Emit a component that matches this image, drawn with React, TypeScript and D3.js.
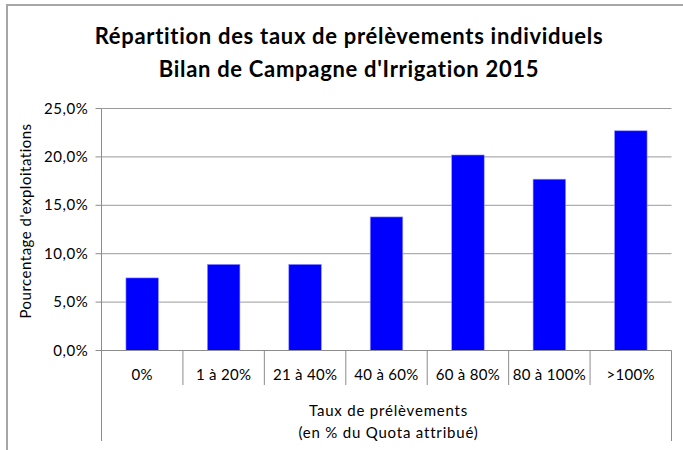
import React from 'react';
import * as d3 from 'd3';

const categories = ['0%', '1 à 20%', '21 à 40%', '40 à 60%', '60 à 80%', '80 à 100%', '>100%'];
const values = [7.5, 8.9, 8.9, 13.8, 20.2, 17.7, 22.7];
const yTicks = [0, 5, 10, 15, 20, 25];
const titleLines = ['Répartition des taux de prélèvements individuels', "Bilan de Campagne d'Irrigation 2015"];
const xTitleLines = ['Taux de prélèvements', '(en % du Quota attribué)'];
const yTitle = "Pourcentage d'exploitations";

const W = 683;
const H = 450;
const left = 101.5;
const right = 671.5;
const top = 108.5;
const bottom = 350.5;

const App: React.FC = () => {
  const x = d3.scaleBand<string>()
    .domain(categories)
    .range([left, right])
    .paddingInner(0.6)
    .paddingOuter(0.3);

  const y = d3.scaleLinear()
    .domain([0, 25])
    .range([bottom, top]);

  const step = x.step();
  const font = 'Lato, "Open Sans", sans-serif';
  const fmt = (v: number) => v.toFixed(1).replace('.', ',') + '%';

  return (
    <svg width={W} height={H} style={{ position: 'absolute', left: 0, top: 0 }} fontFamily={font}>
      <rect x={0} y={0} width={W} height={H} fill="#fff" />
      {/* outer chart border */}
      <path d={`M7,${H} V5 H${W}`} fill="none" stroke="#a6a6a6" strokeWidth={2} />

      {titleLines.map((t, i) => (
        <text key={t} x={349} y={44 + i * 33} textAnchor="middle" fontSize={22} letterSpacing={0.7} fontWeight="bold" fill="#000">
          {t}
        </text>
      ))}

      {/* gridlines and y ticks */}
      {yTicks.map(t => (
        <g key={t}>
          {t > 0 && <line x1={left} x2={right} y1={y(t)} y2={y(t)} stroke="#9a9a9a" strokeWidth={1} />}
          <line x1={left - 6} x2={left} y1={y(t)} y2={y(t)} stroke="#8c8c8c" />
          <text x={left - 13} y={y(t) + 5} textAnchor="end" fontSize={15} letterSpacing={0.6} fill="#000">{fmt(t)}</text>
        </g>
      ))}

      {/* bars */}
      {categories.map((c, i) => (
        <rect
          key={c}
          x={x(c)}
          y={y(values[i])}
          width={x.bandwidth()}
          height={bottom - y(values[i])}
          fill="#0000ff"
          stroke="#9b9bff"
          strokeWidth={0.6}
        />
      ))}

      {/* axes */}
      <line x1={left} x2={left} y1={top} y2={441} stroke="#8c8c8c" />
      <line x1={right} x2={right} y1={bottom} y2={441} stroke="#8c8c8c" />
      <line x1={left} x2={right} y1={bottom} y2={bottom} stroke="#8c8c8c" />
      {categories.slice(1).map((c, i) => {
        const sx = left + step * (i + 1);
        return <line key={c} x1={sx} x2={sx} y1={bottom} y2={385} stroke="#8c8c8c" />;
      })}
      {categories.map(c => (
        <text key={c} x={(x(c) ?? 0) + x.bandwidth() / 2} y={380} textAnchor="middle" fontSize={15} letterSpacing={0.3} fill="#000">
          {c}
        </text>
      ))}

      {xTitleLines.map((t, i) => (
        <text key={t} x={(left + right) / 2 + 2} y={416 + i * 22} textAnchor="middle" fontSize={15} letterSpacing={0.8} fill="#000">
          {t}
        </text>
      ))}

      <text
        transform={`translate(31,221) rotate(-90)`}
        textAnchor="middle"
        fontSize={15}
        letterSpacing={0.5}
        fill="#000"
      >
        {yTitle}
      </text>
    </svg>
  );
};

export default App;
